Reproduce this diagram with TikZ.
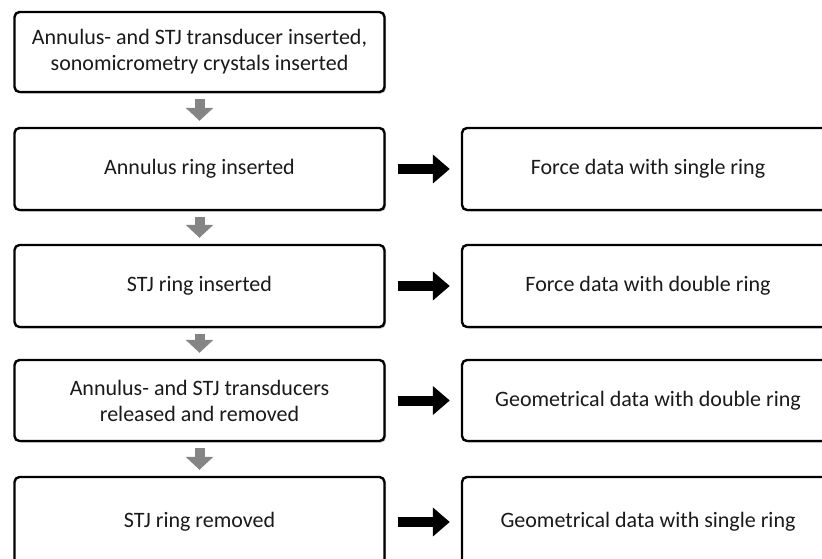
\documentclass[tikz,border=0pt]{standalone}
\usepackage{fontspec}
\setmainfont{Carlito}
\usetikzlibrary{arrows.meta,shadows}
\definecolor{txt}{HTML}{1A1A1A}
\definecolor{garrow}{HTML}{858585}
\begin{document}
\begin{tikzpicture}[x=1pt,y=-1pt,
  boxl/.style={draw=black,line width=2.4pt,rounded corners=5pt,fill=white,
    minimum width=370pt,minimum height=80pt,align=center,text=txt,
    font=\fontsize{22}{26}\selectfont,inner sep=0pt,
    drop shadow={shadow xshift=1.5pt,shadow yshift=-1.5pt,opacity=0.25,fill=black}},
  boxr/.style={boxl,minimum width=372pt},
  garr/.style={draw=garrow,line width=10pt,-{Triangle[width=27pt,length=13pt]},
    shorten <=6pt,shorten >=6pt},
  barr/.style={draw=black,line width=10pt,-{Triangle[width=28pt,length=17pt]},
    shorten <=12pt,shorten >=11pt}]
\useasboundingbox (0,0) rectangle (822,558);
\node[boxl] (l1) at (199.5,52) {Annulus- and STJ transducer inserted,\\sonomicrometry crystals inserted};
\node[boxl,minimum height=82pt] (l2) at (199.5,169) {Annulus ring inserted};
\node[boxl,minimum height=82pt] (l3) at (199.5,286) {STJ ring inserted};
\node[boxl,minimum height=81pt] (l4) at (199.5,400.5) {Annulus- and STJ transducers\\released and removed};
\node[boxl,minimum height=90pt] (l5) at (199.5,522) {STJ ring removed};
\node[boxr,minimum height=82pt] (r2) at (648,169) {Force data with single ring};
\node[boxr,minimum height=82pt] (r3) at (648,286) {Force data with double ring};
\node[boxr,minimum height=81pt] (r4) at (648,400.5) {Geometrical data with double ring};
\node[boxr,minimum height=90pt] (r5) at (648,522) {Geometrical data with single ring};
\draw[garr] (l1.south) -- (l2.north);
\draw[garr] (l2.south) -- (l3.north);
\draw[garr] (l3.south) -- (l4.north);
\draw[garr] (l4.south) -- (l5.north);
\draw[barr] (l2.east) -- (r2.west);
\draw[barr] (l3.east) -- (r3.west);
\draw[barr] (l4.east) -- (r4.west);
\draw[barr] (l5.east) -- (r5.west);
\end{tikzpicture}
\end{document}
